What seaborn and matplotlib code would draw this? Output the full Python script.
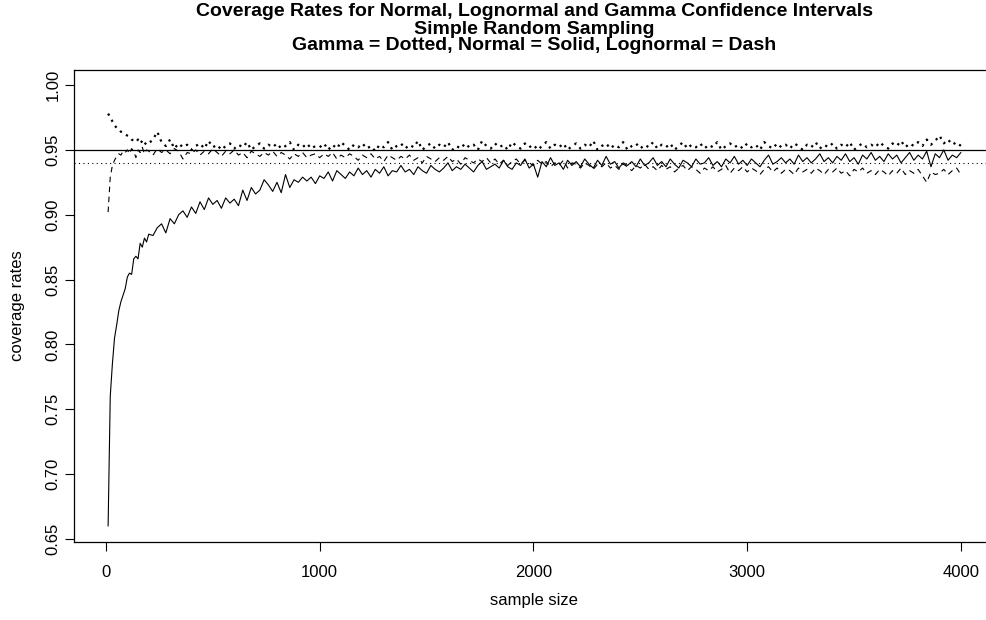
import matplotlib
matplotlib.use("Agg")
import matplotlib.pyplot as plt
import pandas as pd
import seaborn as sns

# --- data ---
sample_size = list(range(10, 200, 10)) + list(range(200, 4001, 20))

normal = [
    0.660, 0.760, 0.785, 0.805, 0.815, 0.826, 0.833, 0.838, 0.843, 0.852,
    0.855, 0.854, 0.866, 0.868, 0.866, 0.878, 0.875, 0.882, 0.879,
    0.885, 0.884, 0.890, 0.893, 0.886, 0.897, 0.893, 0.900, 0.903, 0.898,
    0.906, 0.901, 0.910, 0.904, 0.913, 0.908, 0.911, 0.905, 0.913, 0.909,
    0.912, 0.907, 0.919, 0.911, 0.921, 0.916, 0.919, 0.927, 0.923, 0.918,
    0.925, 0.917, 0.931, 0.921, 0.927, 0.925, 0.929, 0.926, 0.929, 0.924,
    0.930, 0.928, 0.933, 0.926, 0.934, 0.931, 0.928, 0.933, 0.930, 0.936,
    0.931, 0.934, 0.929, 0.935, 0.932, 0.937, 0.930, 0.934, 0.933, 0.938,
    0.933, 0.935, 0.931, 0.937, 0.934, 0.932, 0.938, 0.935, 0.933, 0.936,
    0.940, 0.934, 0.937, 0.935, 0.939, 0.936, 0.933, 0.938, 0.941, 0.935,
    0.937, 0.939, 0.936, 0.942, 0.937, 0.935, 0.940, 0.938, 0.943, 0.936,
    0.939, 0.929, 0.941, 0.937, 0.944, 0.938, 0.940, 0.935, 0.942, 0.938,
    0.941, 0.937, 0.943, 0.939, 0.936, 0.942, 0.938, 0.945, 0.939, 0.941,
    0.936, 0.940, 0.938, 0.941, 0.937, 0.943, 0.938, 0.940, 0.944, 0.938,
    0.941, 0.937, 0.943, 0.939, 0.936, 0.942, 0.940, 0.937, 0.943, 0.939,
    0.940, 0.944, 0.938, 0.941, 0.937, 0.943, 0.940, 0.945, 0.939, 0.942,
    0.938, 0.943, 0.940, 0.937, 0.942, 0.946, 0.939, 0.941, 0.944, 0.940,
    0.943, 0.939, 0.946, 0.941, 0.944, 0.940, 0.943, 0.947, 0.941, 0.944,
    0.940, 0.945, 0.942, 0.947, 0.941, 0.944, 0.939, 0.946, 0.943, 0.948,
    0.942, 0.945, 0.941, 0.947, 0.943, 0.946, 0.940, 0.944, 0.948, 0.942,
    0.946, 0.943, 0.949, 0.937, 0.947, 0.944, 0.950, 0.942, 0.946, 0.944,
    0.948,
]

lognormal = [
    0.902, 0.929, 0.938, 0.942, 0.945, 0.947, 0.946, 0.949, 0.948, 0.950,
    0.947, 0.951, 0.949, 0.944, 0.950, 0.948, 0.952, 0.947, 0.950,
    0.949, 0.946, 0.951, 0.948, 0.950, 0.947, 0.951, 0.949, 0.943, 0.948,
    0.947, 0.950, 0.946, 0.949, 0.947, 0.951, 0.948, 0.945, 0.949, 0.947,
    0.950, 0.946, 0.948, 0.944, 0.949, 0.947, 0.945, 0.948, 0.946, 0.949,
    0.945, 0.948, 0.946, 0.943, 0.947, 0.945, 0.948, 0.944, 0.946, 0.947,
    0.944, 0.947, 0.945, 0.948, 0.943, 0.946, 0.944, 0.947, 0.945, 0.942,
    0.946, 0.944, 0.947, 0.943, 0.945, 0.941, 0.946, 0.944, 0.942, 0.945,
    0.943, 0.946, 0.942, 0.944, 0.940, 0.945, 0.943, 0.941, 0.944, 0.942,
    0.945, 0.941, 0.943, 0.939, 0.944, 0.942, 0.940, 0.943, 0.941, 0.944,
    0.940, 0.943, 0.939, 0.942, 0.938, 0.941, 0.943, 0.939, 0.942, 0.940,
    0.938, 0.942, 0.939, 0.941, 0.937, 0.940, 0.938, 0.942, 0.936, 0.940,
    0.939, 0.936, 0.940, 0.938, 0.935, 0.939, 0.937, 0.940, 0.936, 0.938,
    0.935, 0.939, 0.937, 0.934, 0.938, 0.936, 0.939, 0.935, 0.937, 0.934,
    0.938, 0.935, 0.937, 0.933, 0.936, 0.938, 0.934, 0.937, 0.935, 0.932,
    0.936, 0.934, 0.937, 0.933, 0.935, 0.938, 0.932, 0.936, 0.934, 0.937,
    0.933, 0.936, 0.934, 0.931, 0.935, 0.937, 0.933, 0.936, 0.932, 0.935,
    0.934, 0.931, 0.936, 0.933, 0.935, 0.932, 0.936, 0.934, 0.931, 0.935,
    0.933, 0.936, 0.932, 0.934, 0.930, 0.935, 0.933, 0.936, 0.932, 0.934,
    0.931, 0.935, 0.933, 0.930, 0.934, 0.932, 0.936, 0.931, 0.934, 0.932,
    0.935, 0.930, 0.925, 0.933, 0.931, 0.932, 0.935, 0.931, 0.934, 0.936,
    0.931,
]

gamma = [
    0.978, 0.975, 0.972, 0.969, 0.967, 0.966, 0.964, 0.963, 0.962, 0.961,
    0.960, 0.958, 0.957, 0.956, 0.958, 0.955, 0.957, 0.954, 0.956,
    0.955, 0.958, 0.964, 0.956, 0.953, 0.958, 0.951, 0.955, 0.952, 0.954,
    0.950, 0.953, 0.955, 0.951, 0.957, 0.952, 0.954, 0.950, 0.953, 0.955,
    0.951, 0.954, 0.952, 0.956, 0.950, 0.953, 0.955, 0.951, 0.954, 0.952,
    0.955, 0.951, 0.953, 0.956, 0.950, 0.954, 0.952, 0.955, 0.951, 0.953,
    0.952, 0.955, 0.950, 0.954, 0.951, 0.956, 0.953, 0.950, 0.954, 0.952,
    0.955, 0.951, 0.953, 0.949, 0.954, 0.952, 0.956, 0.950, 0.953, 0.955,
    0.951, 0.954, 0.952, 0.957, 0.950, 0.953, 0.955, 0.951, 0.954, 0.952,
    0.956, 0.950, 0.953, 0.951, 0.955, 0.952, 0.954, 0.950, 0.957, 0.953,
    0.951, 0.955, 0.952, 0.954, 0.950, 0.956, 0.953, 0.951, 0.955, 0.952,
    0.954, 0.950, 0.953, 0.956, 0.951, 0.954, 0.952, 0.955, 0.950, 0.953,
    0.955, 0.951, 0.954, 0.952, 0.957, 0.950, 0.953, 0.955, 0.951, 0.954,
    0.952, 0.956, 0.950, 0.953, 0.955, 0.951, 0.954, 0.952, 0.956, 0.951,
    0.954, 0.952, 0.955, 0.950, 0.953, 0.956, 0.951, 0.954, 0.952, 0.955,
    0.951, 0.954, 0.952, 0.956, 0.950, 0.953, 0.955, 0.952, 0.954, 0.951,
    0.955, 0.952, 0.954, 0.950, 0.956, 0.953, 0.951, 0.955, 0.952, 0.954,
    0.951, 0.955, 0.953, 0.950, 0.954, 0.952, 0.956, 0.951, 0.954, 0.952,
    0.955, 0.951, 0.954, 0.952, 0.956, 0.950, 0.953, 0.955, 0.952, 0.954,
    0.952, 0.956, 0.953, 0.951, 0.955, 0.953, 0.957, 0.952, 0.955, 0.953,
    0.956, 0.953, 0.958, 0.954, 0.957, 0.961, 0.955, 0.958, 0.954, 0.956,
    0.953,
]

x_ticks = [0, 1000, 2000, 3000, 4000]
y_ticks = [0.65, 0.70, 0.75, 0.80, 0.85, 0.90, 0.95, 1.00]
ref_solid = 0.95
ref_dotted = 0.94

df = pd.DataFrame({"n": sample_size, "normal": normal,
                   "lognormal": lognormal, "gamma": gamma})

# --- style ---
sns.set_style("ticks")
plt.rcParams["font.family"] = ["Liberation Sans", "DejaVu Sans"]
plt.rcParams["text.color"] = "black"
plt.rcParams["xtick.color"] = "black"
plt.rcParams["ytick.color"] = "black"
plt.rcParams["axes.labelcolor"] = "black"

W, H = 986, 620
fig = plt.figure(figsize=(W / 100, H / 100), dpi=100)
# plot box: left 74px, top 70px, bottom 542px, right edge runs off the image
ax = fig.add_axes([74 / W, 78 / H, 921 / W, 472 / H])

sns.lineplot(data=df, x="n", y="normal", ax=ax, color="black",
             linewidth=0.8, estimator=None, sort=False)
sns.lineplot(data=df, x="n", y="lognormal", ax=ax, color="black",
             linewidth=0.8, estimator=None, sort=False)
ax.lines[-1].set_dashes((5, 4))
sns.lineplot(data=df, x="n", y="gamma", ax=ax, color="black",
             linewidth=1.6, estimator=None, sort=False)
ax.lines[-1].set_dashes((1, 2.2))

ax.axhline(ref_solid, color="black", linewidth=0.9)
h = ax.axhline(ref_dotted, color="black", linewidth=0.8)
h.set_dashes((1, 3))

ax.set_xlim(-149.6, 4159.6)
ax.set_ylim(0.6477, 1.0116)
ax.set_xticks(x_ticks)
ax.set_yticks(y_ticks)
ax.set_yticklabels([f"{v:.2f}" for v in y_ticks], rotation=90, va="center")
ax.tick_params(axis="both", direction="out", length=6.8, width=0.8,
               labelsize=12, color="black", labelcolor="black")
ax.tick_params(axis="x", pad=10)
ax.tick_params(axis="y", pad=3)
ax.set_xlabel("")
ax.set_ylabel("")
for s in ax.spines.values():
    s.set_linewidth(0.9)
    s.set_color("black")

# --- texts ---
titles = ["Coverage Rates for Normal, Lognormal and Gamma Confidence Intervals",
          "Simple Random Sampling",
          "Gamma = Dotted, Normal = Solid, Lognormal = Dash"]
for t, yc in zip(titles, [12, 29, 46]):
    fig.text(534 / W, 1 - yc / H, t, ha="center", va="center",
             fontsize=14, fontweight="bold", color="black")
fig.text(534 / W, 1 - 600 / H, "sample size", ha="center", va="center",
         fontsize=12, color="black")
fig.text(18 / W, 1 - 306 / H, "coverage rates", ha="center", va="center",
         rotation=90, fontsize=12, color="black")

fig.savefig("out.png", dpi=100)
